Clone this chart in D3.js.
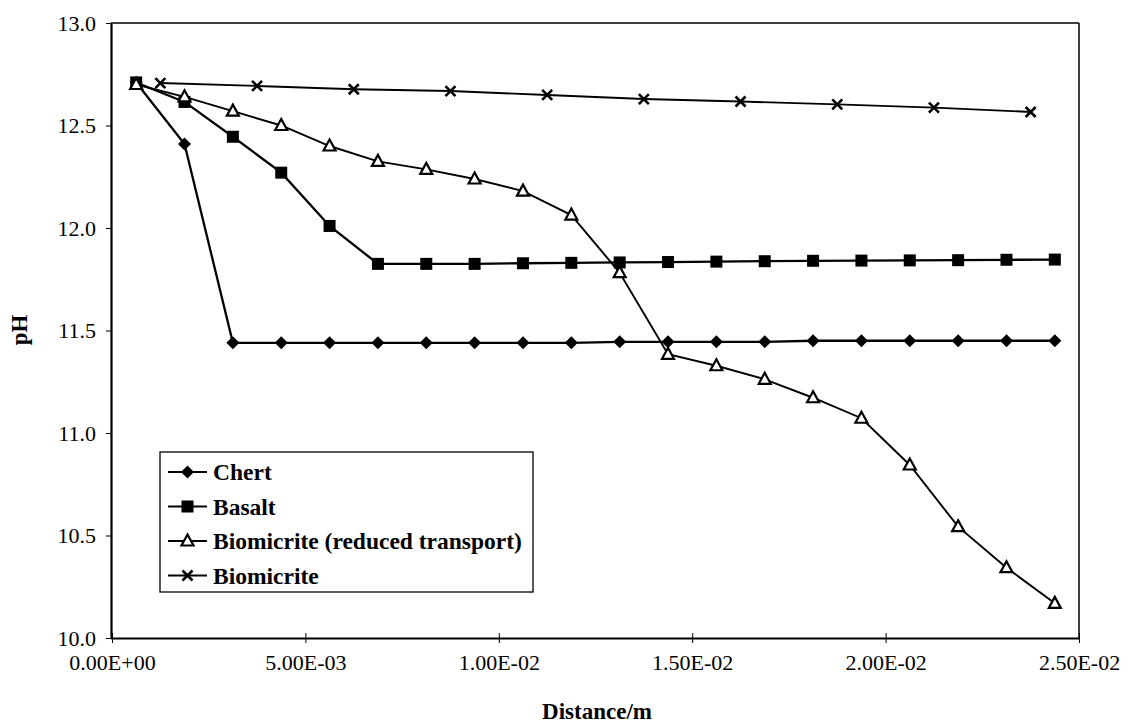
<!DOCTYPE html>
<html>
<head>
<meta charset="utf-8">
<script src="https://cdn.jsdelivr.net/npm/d3@7"></script>
<style>
  html, body { margin: 0; padding: 0; background: #fff; }
  svg { display: block; }
</style>
</head>
<body>
<svg id="chart" width="1128" height="725"></svg>
<script>
// ---- data ----
const distA = [0.000625, 0.001875, 0.003125, 0.004375, 0.005625, 0.006875, 0.008125, 0.009375, 0.010625, 0.011875,
               0.013125, 0.014375, 0.015625, 0.016875, 0.018125, 0.019375, 0.020625, 0.021875, 0.023125, 0.024375];
const distB = [0.00125, 0.00375, 0.00625, 0.00875, 0.01125, 0.01375, 0.01625, 0.01875, 0.02125, 0.02375];

const chert = [12.71, 12.41, 11.44, 11.44, 11.44, 11.44, 11.44, 11.44, 11.44, 11.44,
               11.445, 11.445, 11.445, 11.445, 11.45, 11.45, 11.45, 11.45, 11.45, 11.45];
const basalt = [12.71, 12.615, 12.445, 12.27, 12.01, 11.825, 11.825, 11.825, 11.828, 11.83,
                11.832, 11.834, 11.836, 11.838, 11.84, 11.841, 11.842, 11.843, 11.845, 11.846];
const biomicriteReduced = [12.70, 12.64, 12.57, 12.50, 12.40, 12.325, 12.286, 12.239, 12.18, 12.063,
                           11.782, 11.384, 11.328, 11.262, 11.172, 11.072, 10.844, 10.543, 10.343, 10.169];
const biomicrite = [12.707, 12.693, 12.677, 12.668, 12.649, 12.629, 12.617, 12.603, 12.587, 12.566];

const seriesNames = ["Chert", "Basalt", "Biomicrite (reduced transport)", "Biomicrite"];
const xTicks = [0, 0.005, 0.01, 0.015, 0.02, 0.025];
const xTickLabels = ["0.00E+00", "5.00E-03", "1.00E-02", "1.50E-02", "2.00E-02", "2.50E-02"];
const yTicks = [10.0, 10.5, 11.0, 11.5, 12.0, 12.5, 13.0];

// ---- layout ----
const FONT = "'Liberation Serif', 'Times New Roman', Times, serif";
const svg = d3.select("#chart");
const L = 111, R = 1079, T = 23, B = 638;
const x = d3.scaleLinear().domain([0, 0.025]).range([L + 1, R]);
const y = d3.scaleLinear().domain([10, 13]).range([B, T]);

// frame (top & right)
svg.append("line").attr("x1", L).attr("x2", R).attr("y1", T).attr("y2", T)
  .attr("stroke", "#000").attr("stroke-width", 1.5);
svg.append("line").attr("x1", R).attr("x2", R).attr("y1", T).attr("y2", B)
  .attr("stroke", "#000").attr("stroke-width", 1.5);

// axes
const xAxis = d3.axisBottom(x).tickValues(xTicks).tickFormat((d, i) => xTickLabels[i])
  .tickSizeInner(5).tickSizeOuter(0).tickPadding(11);
const gx = svg.append("g").attr("transform", `translate(0,${B})`).call(xAxis);
gx.select(".domain").attr("stroke-width", 2.2).attr("d", `M${L},0.5H${R}`);
gx.selectAll(".tick line").attr("y1", -5).attr("stroke-width", 1);
gx.selectAll("text").style("font-family", FONT).style("font-size", "22px").attr("fill", "#000");

const yAxis = d3.axisLeft(y).tickValues(yTicks).tickFormat(d3.format(".1f"))
  .tickSizeInner(5).tickSizeOuter(0).tickPadding(10);
const gy = svg.append("g").attr("transform", `translate(${L},0)`).call(yAxis);
gy.select(".domain").attr("stroke-width", 2.2);
gy.selectAll(".tick line").attr("stroke-width", 1);
gy.selectAll("text").style("font-family", FONT).style("font-size", "22px").attr("fill", "#000");

// axis titles
svg.append("text").attr("x", 597).attr("y", 719).attr("text-anchor", "middle")
  .style("font-family", FONT).style("font-size", "23px").style("font-weight", "bold").text("Distance/m");
svg.append("text").attr("transform", "translate(27,330) rotate(-90)").attr("text-anchor", "middle")
  .style("font-family", FONT).style("font-size", "23px").style("font-weight", "bold").text("pH");

// ---- markers ----
function drawMarker(g, type, cx, cy) {
  if (type === "diamond") {
    g.append("path").attr("d", `M${cx},${cy - 6.5}L${cx + 6.5},${cy}L${cx},${cy + 6.5}L${cx - 6.5},${cy}Z`)
      .attr("fill", "#000");
  } else if (type === "square") {
    g.append("rect").attr("x", cx - 6).attr("y", cy - 6).attr("width", 12).attr("height", 12)
      .attr("fill", "#000");
  } else if (type === "triangle") {
    g.append("path").attr("d", `M${cx},${cy - 6.5}L${cx + 6},${cy + 4.5}L${cx - 6},${cy + 4.5}Z`)
      .attr("fill", "#fff").attr("stroke", "#000").attr("stroke-width", 2.2);
  } else if (type === "cross") {
    g.append("path").attr("d", `M${cx - 5},${cy - 5}L${cx + 5},${cy + 5}M${cx - 5},${cy + 5}L${cx + 5},${cy - 5}`)
      .attr("stroke", "#000").attr("stroke-width", 2.6).attr("fill", "none");
  }
}

const series = [
  { name: seriesNames[0], xs: distA, ys: chert, marker: "diamond", width: 2.3 },
  { name: seriesNames[1], xs: distA, ys: basalt, marker: "square", width: 2.3 },
  { name: seriesNames[2], xs: distA, ys: biomicriteReduced, marker: "triangle", width: 1.9 },
  { name: seriesNames[3], xs: distB, ys: biomicrite, marker: "cross", width: 1.9 }
];

const line = d3.line().x(d => x(d[0])).y(d => y(d[1]));
series.forEach(s => {
  const pts = s.xs.map((d, i) => [d, s.ys[i]]);
  const g = svg.append("g");
  g.append("path").datum(pts).attr("d", line).attr("fill", "none")
    .attr("stroke", "#000").attr("stroke-width", s.width);
  pts.forEach(p => drawMarker(g, s.marker, x(p[0]), y(p[1])));
});

// ---- legend ----
const lg = svg.append("g");
lg.append("rect").attr("x", 160).attr("y", 452).attr("width", 373).attr("height", 140)
  .attr("fill", "#fff").attr("stroke", "#000").attr("stroke-width", 1.3);
series.forEach((s, i) => {
  const cy = 472 + i * 34.5;
  lg.append("line").attr("x1", 168).attr("x2", 207).attr("y1", cy).attr("y2", cy)
    .attr("stroke", "#000").attr("stroke-width", 2.2);
  drawMarker(lg, s.marker, 187.5, cy);
  lg.append("text").attr("x", 213).attr("y", cy + 8)
    .style("font-family", FONT).style("font-size", "23.5px")
    .style("font-weight", "bold").text(s.name);
});
</script>
</body>
</html>
